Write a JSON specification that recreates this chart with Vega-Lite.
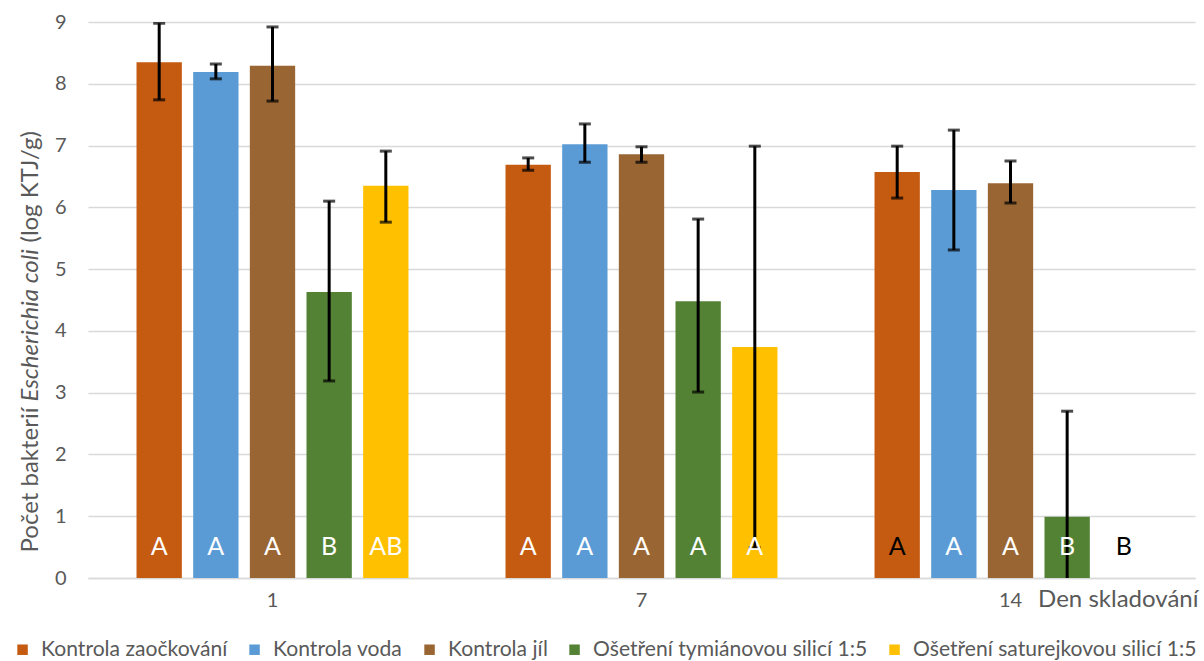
{
  "$schema": "https://vega.github.io/schema/vega-lite/v6.json",
  "width": 1107,
  "height": 556,
  "autosize": "none",
  "padding": {"left": 88, "top": 22, "right": 9, "bottom": 83},
  "background": "white",
  "config": {
    "font": "Lato",
    "view": {"stroke": null},
    "axis": {"labelColor": "#595959", "titleColor": "#595959", "labelFont": "Lato", "titleFont": "Lato"},
    "legend": {"labelFont": "Lato", "labelColor": "#595959"}
  },
  "data": {
    "values": [
      {"day": 1, "series": "Kontrola zaočkování", "value": 8.35, "lo": 7.74, "hi": 8.98, "letter": "A"},
      {"day": 1, "series": "Kontrola voda", "value": 8.19, "lo": 8.08, "hi": 8.32, "letter": "A"},
      {"day": 1, "series": "Kontrola jíl", "value": 8.29, "lo": 7.72, "hi": 8.92, "letter": "A"},
      {"day": 1, "series": "Ošetření tymiánovou silicí 1:5", "value": 4.63, "lo": 3.19, "hi": 6.10, "letter": "B"},
      {"day": 1, "series": "Ošetření saturejkovou silicí 1:5", "value": 6.35, "lo": 5.76, "hi": 6.91, "letter": "AB"},
      {"day": 7, "series": "Kontrola zaočkování", "value": 6.69, "lo": 6.60, "hi": 6.80, "letter": "A"},
      {"day": 7, "series": "Kontrola voda", "value": 7.02, "lo": 6.73, "hi": 7.35, "letter": "A"},
      {"day": 7, "series": "Kontrola jíl", "value": 6.86, "lo": 6.73, "hi": 6.98, "letter": "A"},
      {"day": 7, "series": "Ošetření tymiánovou silicí 1:5", "value": 4.48, "lo": 3.01, "hi": 5.81, "letter": "A"},
      {"day": 7, "series": "Ošetření saturejkovou silicí 1:5", "value": 3.74, "lo": 0.49, "hi": 6.99, "letter": "A"},
      {"day": 14, "series": "Kontrola zaočkování", "value": 6.57, "lo": 6.15, "hi": 6.99, "letter": "A"},
      {"day": 14, "series": "Kontrola voda", "value": 6.28, "lo": 5.31, "hi": 7.25, "letter": "A"},
      {"day": 14, "series": "Kontrola jíl", "value": 6.39, "lo": 6.07, "hi": 6.75, "letter": "A"},
      {"day": 14, "series": "Ošetření tymiánovou silicí 1:5", "value": 0.99, "lo": -0.72, "hi": 2.70, "letter": "B"},
      {"day": 14, "series": "Ošetření saturejkovou silicí 1:5", "value": 0, "lo": null, "hi": null, "letter": "B"}
    ]
  },
  "encoding": {
    "x": {
      "field": "day",
      "type": "ordinal",
      "scale": {"paddingInner": 0.263, "paddingOuter": 0.1315},
      "axis": {
        "labelAngle": 0,
        "labelFontSize": 20,
        "labelPadding": 12,
        "ticks": false,
        "domainColor": "#D9D9D9",
        "domainWidth": 1.5,
        "title": "Den skladování",
        "titleFontSize": 24,
        "titleFontWeight": "normal",
        "titleAnchor": "end",
        "titleAlign": "right",
        "titleBaseline": "top",
        "titleX": 1110,
        "titleY": 9
      }
    },
    "xOffset": {
      "field": "series",
      "type": "nominal",
      "sort": ["Kontrola zaočkování", "Kontrola voda", "Kontrola jíl", "Ošetření tymiánovou silicí 1:5", "Ošetření saturejkovou silicí 1:5"],
      "scale": {"paddingInner": 0.2, "paddingOuter": 0}
    }
  },
  "resolve": {"axis": {"y": "independent"}},
  "layer": [
    {
      "mark": {"type": "bar"},
      "encoding": {
        "y": {
          "field": "value",
          "type": "quantitative",
          "scale": {"domain": [0, 9], "nice": false},
          "axis": {
            "orient": "left",
            "values": [0, 1, 2, 3, 4, 5, 6, 7, 8, 9],
            "format": "d",
            "labelFontSize": 20,
            "labelPadding": 22,
            "ticks": false,
            "domain": false,
            "gridColor": "#D9D9D9",
            "gridWidth": 1.5,
            "title": null
          }
        },
        "color": {
          "field": "series",
          "type": "nominal",
          "scale": {
            "domain": ["Kontrola zaočkování", "Kontrola voda", "Kontrola jíl", "Ošetření tymiánovou silicí 1:5", "Ošetření saturejkovou silicí 1:5"],
            "range": ["#C55A11", "#5B9BD5", "#996633", "#548235", "#FFC000"]
          },
          "legend": {
            "title": null,
            "orient": "none",
            "direction": "horizontal",
            "columns": 5,
            "legendX": -76,
            "legendY": 617,
            "symbolType": "square",
            "symbolSize": 110,
            "symbolStrokeWidth": 0,
            "labelFontSize": 21.1,
            "labelLimit": 0,
            "labelOffset": 8,
            "columnPadding": 16,
            "padding": 0
          }
        }
      }
    },
    {
      "transform": [{"filter": "isValid(datum.hi)"}],
      "mark": {"type": "rule", "color": "black", "strokeWidth": 3, "clip": true},
      "encoding": {
        "y": {
          "field": "lo",
          "type": "quantitative",
          "axis": {
            "orient": "left", "labels": false, "ticks": false, "domain": false, "grid": false,
            "title": "Počet bakterií",
            "titleFontSize": 24, "titleFontWeight": "normal", "titleAngle": -90,
            "titleAlign": "left", "titleBaseline": "alphabetic", "titleX": -51, "titleY": 530
          }
        },
        "y2": {"field": "hi"}
      }
    },
    {
      "transform": [{"filter": "isValid(datum.hi)"}],
      "mark": {"type": "tick", "color": "black", "thickness": 3, "size": 12, "clip": true},
      "encoding": {
        "y": {
          "field": "hi",
          "type": "quantitative",
          "axis": {
            "orient": "left", "labels": false, "ticks": false, "domain": false, "grid": false,
            "title": "Escherichia coli",
            "titleFontSize": 24, "titleFontWeight": "normal", "titleFontStyle": "italic", "titleAngle": -90,
            "titleAlign": "left", "titleBaseline": "alphabetic", "titleX": -51, "titleY": 379
          }
        }
      }
    },
    {
      "transform": [{"filter": "isValid(datum.lo)"}],
      "mark": {"type": "tick", "color": "black", "thickness": 3, "size": 12, "clip": true},
      "encoding": {
        "y": {
          "field": "lo",
          "type": "quantitative",
          "axis": {
            "orient": "left", "labels": false, "ticks": false, "domain": false, "grid": false,
            "title": "(log KTJ/g)",
            "titleFontSize": 24, "titleFontWeight": "normal", "titleAngle": -90,
            "titleAlign": "left", "titleBaseline": "alphabetic", "titleX": -51, "titleY": 220
          }
        }
      }
    },
    {
      "mark": {"type": "text", "fontSize": 25, "baseline": "middle", "align": "center"},
      "encoding": {
        "y": {"datum": 0.5, "axis": null},
        "text": {"field": "letter"},
        "color": {
          "condition": {"test": "datum.day == 14 && (datum.series == 'Kontrola zaočkování' || datum.value == 0)", "value": "black"},
          "value": "white"
        }
      }
    }
  ]
}
